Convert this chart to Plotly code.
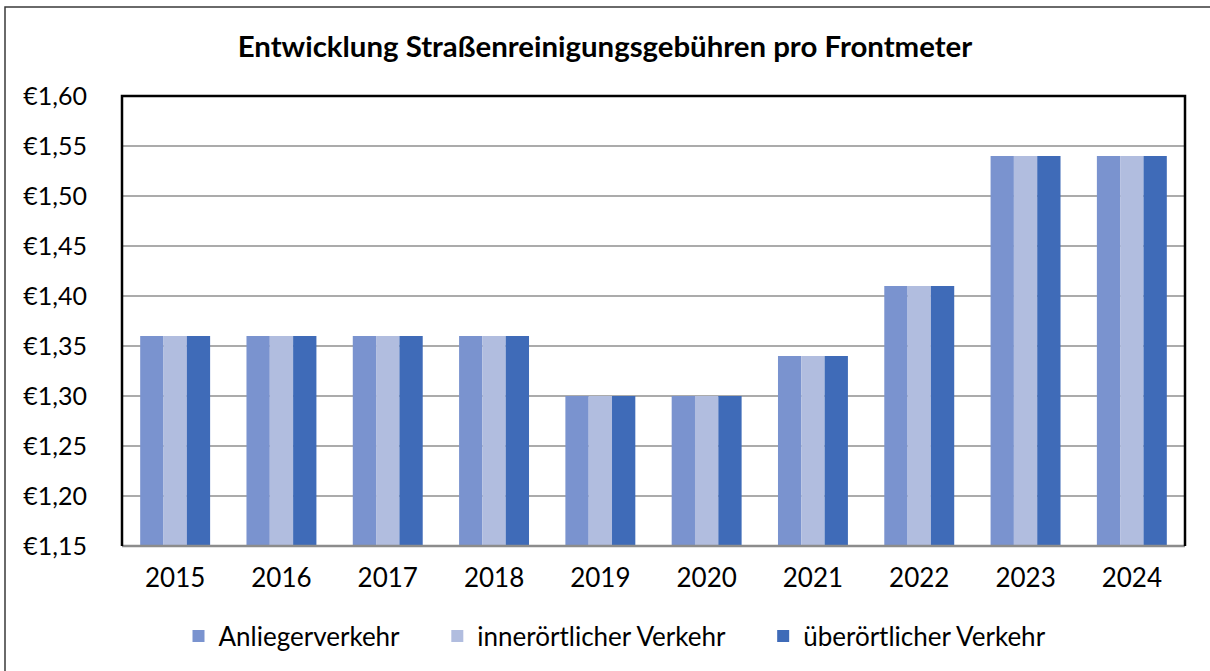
import plotly.graph_objects as go

# Gebühren je Frontmeter (EUR) nach Jahr und Verkehrsart
jahre = ["2015", "2016", "2017", "2018", "2019", "2020", "2021", "2022", "2023", "2024"]
anliegerverkehr = [1.36, 1.36, 1.36, 1.36, 1.30, 1.30, 1.34, 1.41, 1.54, 1.54]
innerortlicher_verkehr = [1.36, 1.36, 1.36, 1.36, 1.30, 1.30, 1.34, 1.41, 1.54, 1.54]
uberortlicher_verkehr = [1.36, 1.36, 1.36, 1.36, 1.30, 1.30, 1.34, 1.41, 1.54, 1.54]

# etwas Abstand zwischen den Legendeneinträgen
pad = "\u00a0" * 5
serien = [
    ("Anliegerverkehr" + pad, anliegerverkehr, "#7A93CF"),
    ("innerörtlicher Verkehr" + pad, innerortlicher_verkehr, "#B1BDDF"),
    ("überörtlicher Verkehr", uberortlicher_verkehr, "#3F6BB8"),
]

W, H = 1210, 671
L, R, T, B = 122, 25, 96, 125
pw, ph = W - L - R, H - T - B

def px_x(p):
    return (p - L) / pw

def px_y(p):
    return (H - B - p) / ph

fig = go.Figure()
for name, vals, col in serien:
    fig.add_trace(go.Bar(
        x=jahre, y=vals, name=name,
        marker=dict(color=col, line=dict(width=0)),
        base=0,
    ))

font = "Lato, 'Open Sans', sans-serif"

fig.update_layout(
    width=W, height=H,
    margin=dict(l=L, r=R, t=T, b=B),
    paper_bgcolor="white", plot_bgcolor="white",
    separators=",.",
    barmode="group", bargap=0.342, bargroupgap=0,
    font=dict(family=font, size=25, color="#000000"),
    title=dict(
        text="<b>Entwicklung Straßenreinigungsgebühren pro Frontmeter</b>",
        x=0.5, xanchor="center", y=1 - 47 / H, yanchor="middle",
        font=dict(family=font, size=29.4, color="#000000"),
    ),
    showlegend=True,
    legend=dict(
        orientation="h", x=px_x(615), xanchor="center",
        y=px_y(636), yanchor="middle",
        font=dict(family=font, size=26, color="#000000"),
        itemsizing="constant", traceorder="normal",
        bgcolor="rgba(0,0,0,0)",
    ),
    xaxis=dict(
        showgrid=False, showline=False, zeroline=False,
        ticks="", ticklabelstandoff=14,
        tickfont=dict(family=font, size=26, color="#000000"),
    ),
    yaxis=dict(
        range=[1.15, 1.60], dtick=0.05, tick0=1.15,
        tickprefix="€", tickformat=".2f",
        showgrid=True, gridcolor="#ABABAB", gridwidth=2,
        zeroline=False, showline=False, ticks="",
        ticklabelstandoff=34,
        tickfont=dict(family=font, size=25, color="#000000"),
    ),
    shapes=[
        # äußerer Rahmen
        dict(type="rect", xref="paper", yref="paper",
             x0=px_x(5), x1=px_x(1220), y0=px_y(690), y1=px_y(7),
             line=dict(color="#3A3A3A", width=1.5), fillcolor="rgba(0,0,0,0)",
             layer="above"),
        # Grundlinie
        dict(type="line", xref="paper", yref="paper",
             x0=0, x1=1, y0=0, y1=0,
             line=dict(color="#8C8C8C", width=2.5), layer="above"),
        # Rahmen Diagrammfläche
        dict(type="path", xref="paper", yref="paper",
             path="M 0 0 L 0 1 L 1 1 L 1 0",
             line=dict(color="#000000", width=2.5), layer="above"),
    ],
)

fig.write_html("out.html")
